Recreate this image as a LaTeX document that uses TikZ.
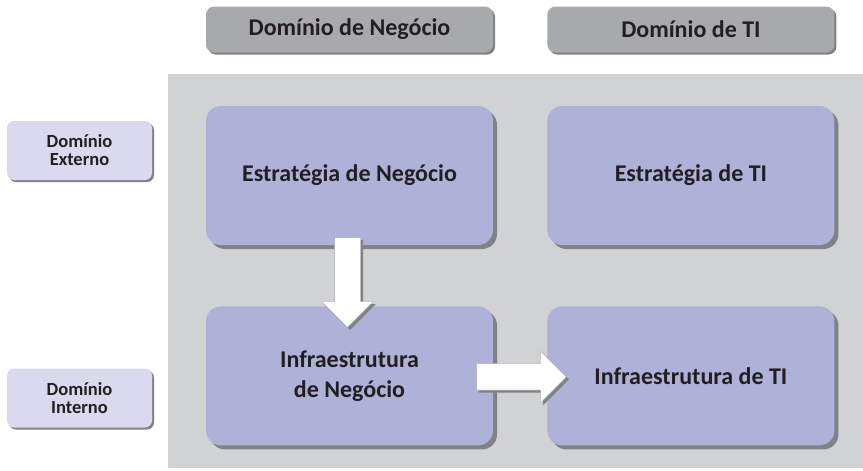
\documentclass[tikz,border=0pt]{standalone}
\usepackage{fontspec}
\setmainfont{Carlito}
\usetikzlibrary{positioning,calc,shadows,shapes.arrows}
\definecolor{bgray}{HTML}{D1D2D4}
\definecolor{lilac}{HTML}{AEB1D8}
\definecolor{hgray}{HTML}{A7A9AC}
\definecolor{pale}{HTML}{DBD9EE}
\definecolor{shade}{HTML}{808285}
\definecolor{ink}{HTML}{231F20}
\tikzset{
    dom/.style={
           rectangle,
           rounded corners=15pt,
           fill=lilac,
           minimum width=287pt, minimum height=139pt,
           align=center,
           text=ink,
           font=\fontsize{24}{30}\selectfont\bfseries,
           drop shadow={shadow xshift=4pt,shadow yshift=-4pt,fill=shade,opacity=1},
           },
}
\tikzset{
    head/.style={
           rectangle,
           rounded corners=8pt,
           fill=hgray,
           minimum width=287pt, minimum height=46pt,
           text=ink,
           font=\fontsize{24}{28}\selectfont\bfseries,
           drop shadow={shadow xshift=2pt,shadow yshift=-2pt,fill=shade,opacity=1},
           },
}
\tikzset{
    side/.style={
           rectangle,
           rounded corners=7pt,
           fill=pale,
           minimum width=145pt, minimum height=59pt,
           align=center,
           text=ink,
           font=\fontsize{18.5}{18}\selectfont\bfseries,
           drop shadow={shadow xshift=2pt,shadow yshift=-2pt,fill=shade,opacity=1},
           },
}
\tikzset{
    flow/.style={
           single arrow,
           single arrow head extend=12.5pt,
           inner sep=13pt,
           minimum height=90pt,
           anchor=tail,
           fill=white, draw=black!35, thin,
           drop shadow={shadow xshift=2.5pt,shadow yshift=-2.5pt,fill=shade,opacity=1},
           },
}

\begin{document}
\begin{tikzpicture}[x=1pt,y=-1pt]
\useasboundingbox (0,0) rectangle (863,471);
\fill[shade] (173,77) rectangle (868,471);
\fill[bgray] (168,74) rectangle (863,468);
\node[dom](bn) at (349.5,175.5){Estratégia de Negócio};
\node[dom,right = 54pt of bn](bt){Estratégia de TI};
\node[dom,below = 61pt of bn](ibn){Infraestrutura\\de Negócio};
\node[dom,right = 54pt of ibn](ibt){Infraestrutura de TI};
\node[head,above = 53pt of bn](hn){Domínio de Negócio};
\node[head,above = 53pt of bt](ht){Domínio de TI};
\node[side](ext) at (79.5,150.5){Domínio\\Externo};
\node[side](int) at (79.5,398){Domínio\\Interno};
\node[flow,shape border rotate=270] (a1) at ($(bn.south)+(-2,-8)$){};
\node[flow] (a2) at ($(ibn.east)+(-17,1)$){};
\end{tikzpicture}
\end{document}
